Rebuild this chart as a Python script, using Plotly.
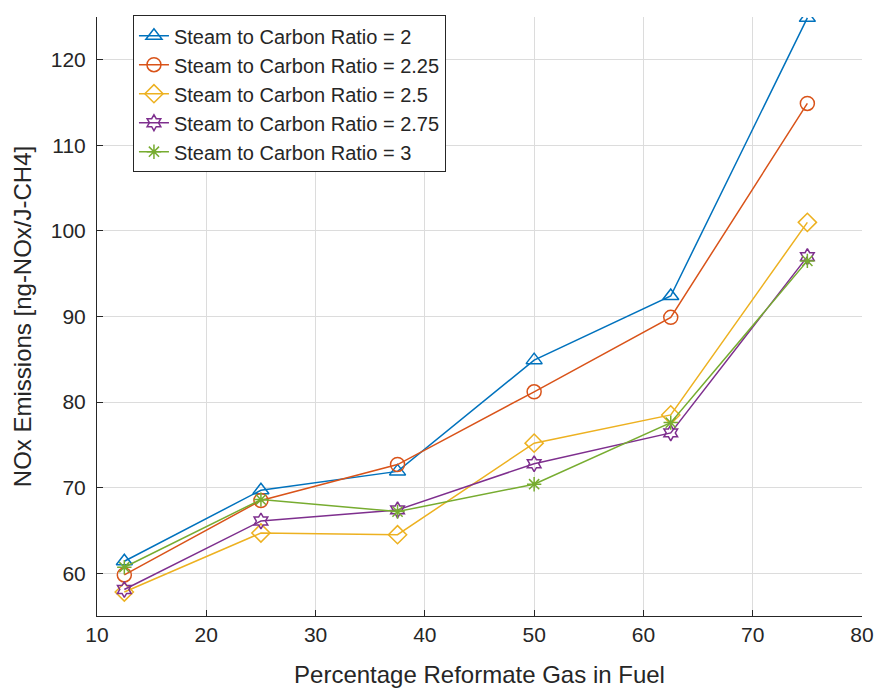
import plotly.graph_objects as go

reformate_pct = [12.5, 25, 37.5, 50, 62.5, 75]
series_names = ["Steam to Carbon Ratio = 2", "Steam to Carbon Ratio = 2.25",
                "Steam to Carbon Ratio = 2.5", "Steam to Carbon Ratio = 2.75",
                "Steam to Carbon Ratio = 3"]
sc_2 = [61.4, 69.7, 71.9, 84.9, 92.4, 124.9]
sc_225 = [59.8, 68.5, 72.7, 81.2, 89.9, 114.9]
sc_25 = [57.8, 64.7, 64.5, 75.2, 78.5, 101.0]
sc_275 = [58.1, 66.1, 67.4, 72.8, 76.4, 97.0]
sc_3 = [60.7, 68.6, 67.2, 70.4, 77.6, 96.5]
series_values = [sc_2, sc_225, sc_25, sc_275, sc_3]

colors = ["#0072BD", "#D95319", "#EDB120", "#7E2F8E", "#77AC30"]
symbols = ["triangle-up-open", "circle-open", "diamond-open", "hexagram-open", "asterisk-open"]
sizes = [14, 14, 14, 12, 12]

fig = go.Figure()
for name, vals, c, s, sz in zip(series_names, series_values, colors, symbols, sizes):
    fig.add_trace(go.Scatter(
        x=reformate_pct, y=vals, name=name, mode="lines+markers",
        line=dict(color=c, width=1.5),
        marker=dict(symbol=s, size=sz, color=c, line=dict(color=c, width=1.5)),
    ))

font_fam = "Liberation Sans, Arial, sans-serif"
fig.update_layout(
    width=876, height=690,
    margin=dict(l=97, r=14, t=17, b=74, autoexpand=False),
    paper_bgcolor="white", plot_bgcolor="white",
    font=dict(family=font_fam, color="#262626"),
    showlegend=True,
    legend=dict(
        x=0.047, y=1.003, xanchor="left", yanchor="top",
        bgcolor="white", bordercolor="#262626", borderwidth=1,
        font=dict(size=20, color="#262626", family=font_fam),
        tracegroupgap=0, entrywidth=325, entrywidthmode="pixels",
    ),
    xaxis=dict(
        range=[10, 80], tickvals=[10, 20, 30, 40, 50, 60, 70, 80],
        showgrid=True, gridcolor="#DCDCDC", gridwidth=1,
        showline=True, linecolor="#262626", linewidth=1,
        ticks="inside", ticklen=6, tickcolor="#262626",
        tickfont=dict(size=21, color="#262626"),
        title=dict(text="Percentage Reformate Gas in Fuel", font=dict(size=24, color="#262626"), standoff=20),
        zeroline=False, mirror=False, automargin=False,
    ),
    yaxis=dict(
        range=[55, 125], tickvals=[60, 70, 80, 90, 100, 110, 120],
        showgrid=True, gridcolor="#DCDCDC", gridwidth=1,
        showline=True, linecolor="#262626", linewidth=1,
        ticks="inside", ticklen=6, tickcolor="#262626",
        tickfont=dict(size=21, color="#262626"),
        ticklabelstandoff=6,
        title=dict(text="NOx Emissions [ng-NOx/J-CH4]", font=dict(size=24, color="#262626"), standoff=12),
        zeroline=False, mirror=False, automargin=False,
    ),
)
fig.write_html("out.html")
